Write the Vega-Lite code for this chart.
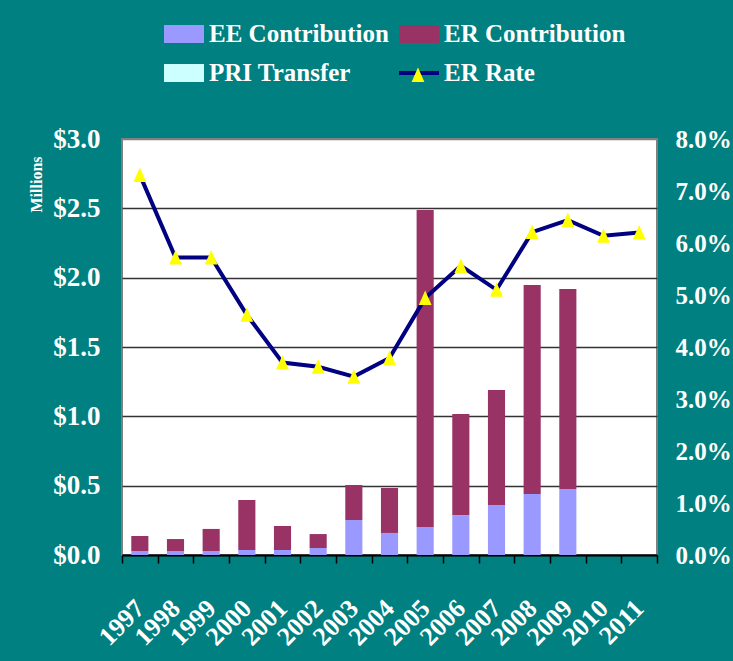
{
  "$schema": "https://vega.github.io/schema/vega-lite/v6.json",
  "width": 535,
  "height": 416,
  "autosize": {"type": "none"},
  "padding": {"left": 122, "top": 139, "right": 76, "bottom": 106},
  "background": "#008080",
  "config": {
    "view": {"fill": "white", "stroke": "#808080", "strokeWidth": 2},
    "font": "Liberation Serif",
    "axis": {"labelFont": "Liberation Serif", "labelFontWeight": "bold", "labelColor": "white", "titleFont": "Liberation Serif", "titleFontWeight": "bold", "titleColor": "white"},
    "legend": {"labelFont": "Liberation Serif", "labelFontWeight": "bold", "labelColor": "white", "padding": 0}
  },
  "datasets": {
    "bars": [
      {"year": "1997", "series": "EE Contribution", "value": 0.029},
      {"year": "1997", "series": "ER Contribution", "value": 0.108},
      {"year": "1998", "series": "EE Contribution", "value": 0.029},
      {"year": "1998", "series": "ER Contribution", "value": 0.086},
      {"year": "1999", "series": "EE Contribution", "value": 0.029},
      {"year": "1999", "series": "ER Contribution", "value": 0.159},
      {"year": "2000", "series": "EE Contribution", "value": 0.036},
      {"year": "2000", "series": "ER Contribution", "value": 0.361},
      {"year": "2001", "series": "EE Contribution", "value": 0.036},
      {"year": "2001", "series": "ER Contribution", "value": 0.173},
      {"year": "2002", "series": "EE Contribution", "value": 0.05},
      {"year": "2002", "series": "ER Contribution", "value": 0.101},
      {"year": "2003", "series": "EE Contribution", "value": 0.252},
      {"year": "2003", "series": "ER Contribution", "value": 0.253},
      {"year": "2004", "series": "EE Contribution", "value": 0.159},
      {"year": "2004", "series": "ER Contribution", "value": 0.324},
      {"year": "2005", "series": "EE Contribution", "value": 0.202},
      {"year": "2005", "series": "ER Contribution", "value": 2.286},
      {"year": "2006", "series": "EE Contribution", "value": 0.288},
      {"year": "2006", "series": "ER Contribution", "value": 0.729},
      {"year": "2007", "series": "EE Contribution", "value": 0.361},
      {"year": "2007", "series": "ER Contribution", "value": 0.829},
      {"year": "2008", "series": "EE Contribution", "value": 0.44},
      {"year": "2008", "series": "ER Contribution", "value": 1.507},
      {"year": "2009", "series": "EE Contribution", "value": 0.476},
      {"year": "2009", "series": "ER Contribution", "value": 1.442}
    ],
    "rate": [
      {"year": "1997", "rate": 0.0731},
      {"year": "1998", "rate": 0.0572},
      {"year": "1999", "rate": 0.0572},
      {"year": "2000", "rate": 0.0462},
      {"year": "2001", "rate": 0.037},
      {"year": "2002", "rate": 0.0362},
      {"year": "2003", "rate": 0.0343},
      {"year": "2004", "rate": 0.0379},
      {"year": "2005", "rate": 0.0494},
      {"year": "2006", "rate": 0.0556},
      {"year": "2007", "rate": 0.051},
      {"year": "2008", "rate": 0.0621},
      {"year": "2009", "rate": 0.0644},
      {"year": "2010", "rate": 0.0614},
      {"year": "2011", "rate": 0.062}
    ]
  },
  "layer": [
    {
      "data": {"name": "bars"},
      "mark": {"type": "bar", "width": {"band": 0.48}},
      "encoding": {
        "x": {
          "field": "year",
          "type": "ordinal",
          "scale": {"paddingInner": 0, "paddingOuter": 0},
          "axis": {
            "title": null,
            "labelAngle": -45,
            "labelAlign": "right",
            "labelBaseline": "middle",
            "labelFontSize": 26,
            "labelPadding": 41,
            "tickBand": "extent",
            "tickSize": 8,
            "tickColor": "black",
            "tickWidth": 1.5,
            "domainColor": "black",
            "domainWidth": 2,
            "grid": false
          }
        },
        "y": {
          "field": "value",
          "type": "quantitative",
          "stack": "zero",
          "scale": {"domain": [0, 3], "nice": false},
          "axis": {
            "title": "Millions",
            "titleX": -86,
            "titleY": 45,
            "titleAngle": -90,
            "titleAlign": "center",
            "titleBaseline": "middle",
            "titleFontSize": 16,
            "values": [0, 0.5, 1, 1.5, 2, 2.5, 3],
            "labelExpr": "'$' + format(datum.value, '.1f')",
            "labelFontSize": 27,
            "labelPadding": 22,
            "ticks": false,
            "domain": false,
            "grid": true,
            "gridColor": {"condition": {"test": "datum.value >= 3", "value": "#808080"}, "value": "#333333"},
            "gridWidth": 1.3
          }
        },
        "color": {
          "field": "series",
          "type": "nominal",
          "scale": {
            "domain": ["EE Contribution", "ER Contribution", "PRI Transfer", "ER Rate"],
            "range": ["#9999FF", "#993366", "#CCFFFF", "#000080"]
          },
          "legend": {
            "title": null,
            "orient": "none",
            "direction": "horizontal",
            "legendX": 40,
            "legendY": -127,
            "columns": 2,
            "columnPadding": 2,
            "rowPadding": -1,
            "symbolType": "M-1,-0.45H1V0.45H-1Z",
            "symbolSize": 1600,
            "symbolStrokeWidth": 4,
            "labelFontSize": 25,
            "labelOffset": 3,
            "labelLimit": 400,
            "encode": {
              "symbols": {
                "update": {
                  "shape": {"signal": "datum.value === 'ER Rate' ? 'M-1,0H1' : 'M-1,-0.45H1V0.45H-1Z'"},
                  "fill": {"signal": "datum.value === 'ER Rate' ? 'transparent' : scale('color', datum.value)"},
                  "stroke": {"signal": "datum.value === 'ER Rate' ? '#000080' : 'transparent'"},
                  "opacity": {"value": 1}
                }
              }
            }
          }
        },
        "order": {"field": "series", "sort": "ascending"}
      }
    },
    {
      "data": {"name": "rate"},
      "encoding": {
        "x": {"field": "year", "type": "ordinal"},
        "y": {
          "field": "rate",
          "type": "quantitative",
          "scale": {"domain": [0, 0.08], "nice": false},
          "axis": {
            "orient": "right",
            "title": null,
            "values": [0, 0.01, 0.02, 0.03, 0.04, 0.05, 0.06, 0.07, 0.08],
            "format": ".1%",
            "labelFontSize": 25,
            "labelPadding": 18,
            "ticks": false,
            "domain": false,
            "grid": false
          }
        }
      },
      "layer": [
        {"mark": {"type": "line", "color": "#000080", "strokeWidth": 4}},
        {
          "mark": {"type": "point", "filled": true, "fill": "#FFFF00", "strokeWidth": 0, "opacity": 1, "size": 1600},
          "encoding": {
            "shape": {
              "datum": "ER Rate",
              "scale": {"range": ["M0,-0.375L-0.32,0.35L0.32,0.35Z"]},
              "legend": {
                "title": null,
                "orient": "none",
                "legendX": 276,
                "legendY": -84,
                "symbolSize": 1600,
                "symbolFillColor": "#FFFF00",
                "symbolStrokeWidth": 0,
                "labelExpr": "''",
                "labelFontSize": 10,
                "encode": {"symbols": {"update": {"fill": {"value": "#FFFF00"}, "opacity": {"value": 1}}}}
              }
            }
          }
        }
      ]
    }
  ],
  "resolve": {"scale": {"y": "independent"}}
}
